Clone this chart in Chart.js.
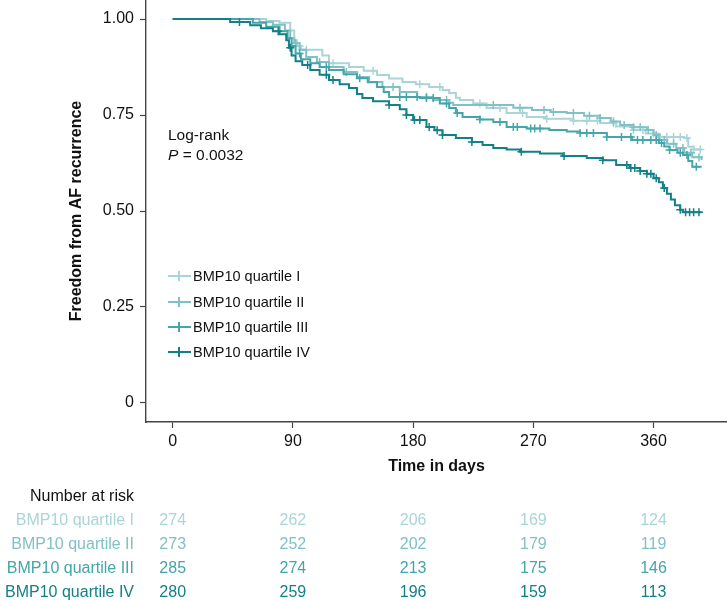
<!DOCTYPE html>
<html>
<head>
<meta charset="UTF-8">
<title>Freedom from AF recurrence by BMP10 quartile</title>
<script src="https://cdn.jsdelivr.net/npm/chart.js"></script>
<style>
  html, body { margin: 0; padding: 0; background: #fff; }
  body { width: 727px; height: 601px; position: relative; overflow: hidden;
         font-family: 'Liberation Sans', Arial, sans-serif; color: #111; }
  #chart { position: absolute; left: 0; top: 0; }
  .txt { position: absolute; font-size: 15.5px; white-space: nowrap; line-height: 1; }
  .legend-row { position: absolute; left: 168px; height: 16px; font-size: 14.5px; line-height: 16px; }
  .legend-row .mark { position: absolute; left: 0; top: 7px; width: 23px; height: 2px; }
  .legend-row .mark i { position: absolute; left: 10px; top: -4px; width: 2px; height: 10px; background: inherit; }
  .legend-row span { position: absolute; left: 25px; top: 0; white-space: nowrap; }
  .risk-label { position: absolute; right: 593px; font-size: 16px; white-space: nowrap; line-height: 1; }
  .risk-num { position: absolute; font-size: 16px; line-height: 1; transform: translateX(-50%); }
</style>
</head>
<body>
<canvas id="chart" width="727" height="601"></canvas>
<div id="overlay"></div>
<script>
// ---- data ----
const groupNames = ['BMP10 quartile I', 'BMP10 quartile II', 'BMP10 quartile III', 'BMP10 quartile IV'];
const groupColors = ['#a9d5d9', '#80c1c5', '#44a5aa', '#127f89'];

// step points of the Kaplan-Meier curves (day, survival after event)
const daysQ1 = [0, 70, 80, 88, 91, 93, 96, 112, 117, 132, 143, 153, 162, 172, 182, 192, 202, 207, 212, 215, 225, 235, 250, 265, 280, 300, 320, 332, 344, 354, 364, 383, 386, 390, 396];
const survQ1 = [1, 0.995, 0.99, 0.97, 0.945, 0.93, 0.92, 0.905, 0.885, 0.875, 0.865, 0.854, 0.845, 0.836, 0.83, 0.823, 0.815, 0.807, 0.795, 0.789, 0.78, 0.768, 0.755, 0.745, 0.74, 0.735, 0.729, 0.72, 0.711, 0.702, 0.693, 0.69, 0.667, 0.66, 0.66];

const daysQ2 = [0, 65, 75, 84, 88, 91, 95, 100, 108, 117, 128, 138, 147, 157, 170, 183, 195, 207, 210, 255, 269, 283, 295, 308, 320, 328, 335, 345, 355, 360, 364, 370, 377, 383, 389, 396];
const survQ2 = [1, 0.992, 0.985, 0.97, 0.95, 0.937, 0.92, 0.901, 0.888, 0.875, 0.862, 0.849, 0.836, 0.823, 0.81, 0.797, 0.789, 0.782, 0.776, 0.769, 0.763, 0.758, 0.755, 0.748, 0.742, 0.733, 0.724, 0.718, 0.711, 0.698, 0.685, 0.675, 0.664, 0.652, 0.64, 0.633];

const daysQ3 = [0, 60, 70, 80, 86, 89, 92, 96, 103, 110, 117, 128, 138, 146, 153, 158, 162, 185, 200, 207, 212, 217, 230, 240, 250, 265, 282, 295, 305, 325, 344, 364, 368, 372, 378, 382, 386, 389, 396];
const survQ3 = [1, 0.99, 0.98, 0.968, 0.95, 0.93, 0.91, 0.895, 0.885, 0.875, 0.867, 0.856, 0.846, 0.835, 0.823, 0.81, 0.797, 0.794, 0.78, 0.768, 0.755, 0.745, 0.738, 0.732, 0.719, 0.715, 0.711, 0.707, 0.703, 0.693, 0.685, 0.677, 0.668, 0.659, 0.652, 0.646, 0.63, 0.615, 0.615];

const daysQ4 = [0, 43, 58, 66, 75, 80, 85, 87, 89, 92, 97, 103, 110, 117, 125, 132, 138, 142, 150, 162, 170, 175, 180, 190, 196, 202, 212, 224, 232, 240, 250, 260, 275, 292, 310, 322, 332, 342, 350, 355, 360, 364, 367, 370, 373, 376, 380, 382, 396];
const survQ4 = [1, 0.992, 0.984, 0.976, 0.968, 0.96, 0.945, 0.925, 0.905, 0.89, 0.88, 0.867, 0.855, 0.841, 0.83, 0.82, 0.805, 0.794, 0.786, 0.776, 0.765, 0.75, 0.737, 0.719, 0.71, 0.698, 0.69, 0.68, 0.672, 0.664, 0.66, 0.654, 0.65, 0.643, 0.638, 0.632, 0.62, 0.612, 0.604, 0.597, 0.585, 0.575, 0.56, 0.545, 0.53, 0.515, 0.503, 0.497, 0.497];

// censoring times (drawn as + marks on the curve)
const censorQ1 = [95, 100, 120, 150, 185, 200, 230, 245, 262, 280, 300, 310, 318, 330, 345, 352, 360, 365, 370, 375, 380, 385, 390, 395];
const censorQ2 = [92, 110, 130, 165, 190, 205, 240, 260, 278, 285, 300, 312, 320, 330, 338, 345, 350, 356, 362, 368, 375, 382, 388, 394];
const censorQ3 = [95, 115, 140, 170, 175, 183, 190, 195, 205, 213, 230, 245, 255, 258, 268, 271, 275, 305, 310, 315, 325, 336, 343, 348, 352, 358, 362, 366, 372, 380, 385, 392];
const censorQ4 = [50, 79, 88, 101, 115, 120, 162, 175, 181, 185, 192, 198, 202, 224, 261, 293, 322, 340, 343, 346, 350, 355, 358, 362, 368, 380, 384, 387, 390, 394];

const xTicks = [0, 90, 180, 270, 360];
const yTicks = [0, 0.25, 0.5, 0.75, 1];
const yTickLabels = ['0', '0.25', '0.50', '0.75', '1.00'];

// number at risk at each x tick
const riskQ1 = [274, 262, 206, 169, 124];
const riskQ2 = [273, 252, 202, 179, 119];
const riskQ3 = [285, 274, 213, 175, 146];
const riskQ4 = [280, 259, 196, 159, 113];

// ---- build datasets ----
const curveDays = [daysQ1, daysQ2, daysQ3, daysQ4];
const curveSurv = [survQ1, survQ2, survQ3, survQ4];
const censors = [censorQ1, censorQ2, censorQ3, censorQ4];
const risks = [riskQ1, riskQ2, riskQ3, riskQ4];

function survAt(days, surv, t) {
  let s = surv[0];
  for (let i = 0; i < days.length; i++) {
    if (days[i] <= t) s = surv[i]; else break;
  }
  return s;
}

const datasets = [];
for (let g = 0; g < 4; g++) {
  datasets.push({
    type: 'line',
    data: curveDays[g].map((d, i) => ({ x: d, y: curveSurv[g][i] })),
    borderColor: groupColors[g],
    borderWidth: 2,
    stepped: true,
    pointRadius: 0,
    fill: false,
    order: 4 - g
  });
  datasets.push({
    type: 'scatter',
    data: censors[g].map(t => ({ x: t, y: survAt(curveDays[g], curveSurv[g], t) })),
    pointStyle: 'cross',
    pointRadius: 4,
    borderWidth: 1.5,
    borderColor: groupColors[g],
    backgroundColor: groupColors[g],
    order: 4 - g
  });
}

const tickFont = { family: "'Liberation Sans', Arial, sans-serif", size: 16 };
const titleFont = { family: "'Liberation Sans', Arial, sans-serif", size: 16, weight: 'bold' };

const chart = new Chart(document.getElementById('chart').getContext('2d'), {
  type: 'scatter',
  data: { datasets },
  options: {
    responsive: false,
    animation: false,
    layout: { autoPadding: false, padding: { left: 0, right: 0, top: 0, bottom: 121 } },
    plugins: { legend: { display: false }, tooltip: { enabled: false } },
    scales: {
      x: {
        type: 'linear', min: -20, max: 415,
        afterBuildTicks: s => { s.ticks = xTicks.map(v => ({ value: v })); },
        afterFit: s => { s.height = 58; s.paddingLeft = 0; s.paddingRight = 0; },
        grid: { drawOnChartArea: false, tickLength: 6, color: '#444', tickWidth: 1.2 },
        border: { color: '#444', width: 1.4 },
        ticks: { font: tickFont, color: '#111', padding: 4, maxRotation: 0 },
        title: { display: true, text: 'Time in days', font: titleFont, color: '#111', padding: { top: 4, bottom: 4 } }
      },
      y: {
        type: 'linear', min: -0.0495, max: 1.0495,
        afterBuildTicks: s => { s.ticks = yTicks.map(v => ({ value: v })); },
        afterFit: s => { s.width = 146; s.paddingTop = 0; s.paddingBottom = 0; },
        grid: { drawOnChartArea: false, tickLength: 6, color: '#444', tickWidth: 1.2 },
        border: { color: '#444', width: 1.4 },
        ticks: {
          font: tickFont, color: '#111', padding: 6,
          callback: v => { const i = yTicks.indexOf(v); return i >= 0 ? yTickLabels[i] : ''; }
        },
        title: { display: true, text: 'Freedom from AF recurrence', font: titleFont, color: '#111', padding: { top: 67, bottom: 0 } }
      }
    }
  }
});

// ---- overlay text: annotation, legend, number at risk ----
const overlay = document.getElementById('overlay');
const xs = chart.scales.x;

function addDiv(cls, text, css, color) {
  const d = document.createElement('div');
  d.className = cls;
  d.textContent = text;
  Object.assign(d.style, css);
  if (color) d.style.color = color;
  overlay.appendChild(d);
  return d;
}

addDiv('txt', 'Log-rank', { left: '168px', top: '127px' });
const pLine = addDiv('txt', '', { left: '168px', top: '147px' });
pLine.innerHTML = '<i>P</i> = 0.0032';

const legendTops = [268, 294, 319, 344];
groupNames.forEach((name, g) => {
  const row = document.createElement('div');
  row.className = 'legend-row';
  row.style.top = legendTops[g] + 'px';
  const mark = document.createElement('div');
  mark.className = 'mark';
  mark.style.background = groupColors[g];
  mark.appendChild(document.createElement('i'));
  const label = document.createElement('span');
  label.textContent = name;
  row.appendChild(mark);
  row.appendChild(label);
  overlay.appendChild(row);
});

addDiv('risk-label', 'Number at risk', { top: '488px' });
const riskTops = [512, 536, 560, 584];
groupNames.forEach((name, g) => {
  addDiv('risk-label', name, { top: riskTops[g] + 'px' }, groupColors[g]);
  xTicks.forEach((t, k) => {
    addDiv('risk-num', String(risks[g][k]), { left: xs.getPixelForValue(t) + 'px', top: riskTops[g] + 'px' }, groupColors[g]);
  });
});
</script>
</body>
</html>
